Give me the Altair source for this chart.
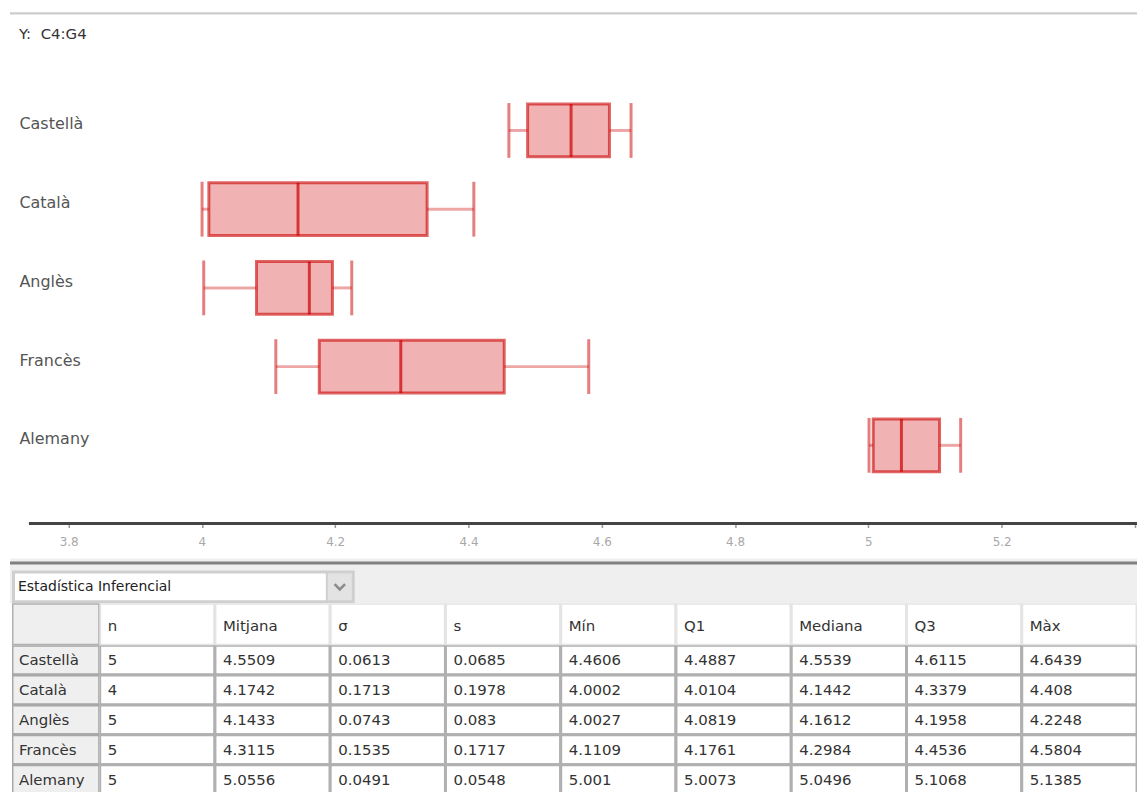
import altair as alt
import pandas as pd

# ---------------- data ----------------
languages = ["Castellà", "Català", "Anglès", "Francès", "Alemany"]
n_vals = [5, 4, 5, 5, 5]
mean_vals = [4.5509, 4.1742, 4.1433, 4.3115, 5.0556]
sigma_vals = [0.0613, 0.1713, 0.0743, 0.1535, 0.0491]
s_vals = [0.0685, 0.1978, 0.083, 0.1717, 0.0548]
min_vals = [4.4606, 4.0002, 4.0027, 4.1109, 5.001]
q1_vals = [4.4887, 4.0104, 4.0819, 4.1761, 5.0073]
median_vals = [4.5539, 4.1442, 4.1612, 4.2984, 5.0496]
q3_vals = [4.6115, 4.3379, 4.1958, 4.4536, 5.1068]
max_vals = [4.6439, 4.408, 4.2248, 4.5804, 5.1385]
x_ticks = [3.8, 4, 4.2, 4.4, 4.6, 4.8, 5, 5.2, 5.4]
column_headers = ["n", "Mitjana", "σ", "s", "Mín", "Q1", "Mediana", "Q3", "Màx"]
source_label = "Y:\u00a0 C4:G4"
selector_label = "Estadística Inferencial"

# ---------------- style ----------------
FONT = "DejaVu Sans"
RED = "#cc0000"
W = 1129
H = 516

box_df = pd.DataFrame({"lang": languages, "min": min_vals, "q1": q1_vals,
                       "med": median_vals, "q3": q3_vals, "max": max_vals})
one = pd.DataFrame({"k": [0]})

x_scale = alt.Scale(domain=[3.715, 3.715 + W / 668.8], nice=False, zero=False)
y_scale = alt.Scale(domain=languages, range=[82, 477], paddingInner=0, paddingOuter=0)
x_axis = alt.Axis(title=None, values=x_ticks, format="~g", domain=False, grid=False,
                  tickSize=4, tickColor="#999999", tickWidth=1.5, labelBound=True,
                  labelFont=FONT, labelFontSize=12, labelColor="#a8a8a8", labelPadding=9)
y_axis = alt.Axis(title=None, domain=False, ticks=False, grid=False, labelAlign="left",
                  labelBaseline="middle", labelPadding=-7, labelOffset=-6,
                  labelFont=FONT, labelFontSize=16, labelColor="#555555")


def X(field):
    return alt.X(field, type="quantitative", scale=x_scale, axis=x_axis)


Y = alt.Y("lang:N", scale=y_scale, axis=y_axis)

base = alt.Chart(box_df)
whisk_lo = base.mark_rule(color=RED, opacity=0.35, strokeWidth=3).encode(x=X("min"), x2="q1:Q", y=Y)
whisk_hi = base.mark_rule(color=RED, opacity=0.35, strokeWidth=3).encode(x=X("q3"), x2="max:Q", y=Y)
box = base.mark_bar(size=53, fill=RED, fillOpacity=0.3, stroke=RED, strokeOpacity=0.6,
                    strokeWidth=3).encode(x=X("q1"), x2="q3:Q", y=Y)
cap_lo = base.mark_tick(color=RED, opacity=0.5, size=55, thickness=3).encode(x=X("min"), y=Y)
cap_hi = base.mark_tick(color=RED, opacity=0.5, size=55, thickness=3).encode(x=X("max"), y=Y)
median = base.mark_tick(color=RED, opacity=0.7, size=53, thickness=3).encode(x=X("med"), y=Y)

axis_line = alt.Chart(one).mark_rule(color="#444444", strokeWidth=3).encode(
    x=alt.value(17), x2=alt.value(W), y=alt.value(H))
top_line = alt.Chart(one).mark_rule(color="#cccccc", strokeWidth=2.5).encode(
    x=alt.value(-2), x2=alt.value(W), y=alt.value(4))
title_txt = alt.Chart(pd.DataFrame({"t": [source_label]})).mark_text(
    align="left", baseline="middle", font=FONT, fontSize=15, color="#333333").encode(
    x=alt.value(7), y=alt.value(25), text="t:N")

top = alt.layer(whisk_lo, whisk_hi, box, cap_lo, cap_hi, median, axis_line, top_line,
                title_txt).properties(width=W, height=H)

# ---------------- selector panel ----------------
panel_bg = alt.Chart(one).mark_rect(color="#efefef").encode(
    x=alt.value(-2), x2=alt.value(W), y=alt.value(0), y2=alt.value(45))
sep = alt.Chart(one).mark_rule(color="#808080", strokeWidth=3).encode(
    x=alt.value(-2), x2=alt.value(W), y=alt.value(4.5))
dd_outer = alt.Chart(one).mark_rect(color="#cfcfcf").encode(
    x=alt.value(0), x2=alt.value(344), y=alt.value(12), y2=alt.value(45))
dd_inner = alt.Chart(one).mark_rect(color="#ffffff").encode(
    x=alt.value(3), x2=alt.value(315), y=alt.value(15), y2=alt.value(42))
dd_arrow = alt.Chart(one).mark_rect(color="#e3e3e3").encode(
    x=alt.value(317), x2=alt.value(341), y=alt.value(15), y2=alt.value(42))
chevron = alt.Chart(one).mark_point(shape="M-1,-0.5L0,0.5L1,-0.5", filled=False,
                                    color="#8a8a8a", strokeWidth=2.5, size=110, opacity=1).encode(
    x=alt.value(329), y=alt.value(28.5))
dd_text = alt.Chart(pd.DataFrame({"t": [selector_label]})).mark_text(
    align="left", baseline="middle", font=FONT, fontSize=14, color="#222222").encode(
    x=alt.value(6), y=alt.value(28.5), text="t:N")
panel = alt.layer(panel_bg, sep, dd_outer, dd_inner, dd_arrow, chevron, dd_text).properties(
    width=W, height=45)

# ---------------- table ----------------
rows = []
for i, lang in enumerate(languages):
    vals = [n_vals[i], mean_vals[i], sigma_vals[i], s_vals[i], min_vals[i],
            q1_vals[i], median_vals[i], q3_vals[i], max_vals[i]]
    for col, v in zip(column_headers, vals):
        rows.append({"lang": lang, "col": col, "text": str(v)})
cells_df = pd.DataFrame(rows)

FW = 88
TW = W - FW
HH = 42
BH = 150
col_scale = alt.Scale(domain=column_headers, paddingInner=0, paddingOuter=0)
row_scale = alt.Scale(domain=languages, paddingInner=0, paddingOuter=0)

corner = alt.Chart(one).mark_rect(fill="#efefef", stroke="#b0b0b0", strokeWidth=3, clip=True).encode(
    x=alt.value(0), x2=alt.value(FW), y=alt.value(0), y2=alt.value(HH)).properties(width=FW, height=HH)

hdr_df = pd.DataFrame({"col": column_headers})
hdr_rect = alt.Chart(hdr_df).mark_rect(fill="#ffffff", stroke="#e4e4e4", strokeWidth=3, clip=True).encode(
    x=alt.X("col:N", scale=col_scale, axis=None))
hdr_text = alt.Chart(hdr_df).mark_text(align="left", baseline="middle", dx=8, font=FONT,
                                       fontSize=15, color="#333333", clip=True).encode(
    x=alt.X("col:N", scale=col_scale, axis=None, bandPosition=0), y=alt.value(23), text="col:N")
header = alt.layer(hdr_rect, hdr_text).properties(width=TW, height=HH)

rh_df = pd.DataFrame({"lang": languages})
rh_rect = alt.Chart(rh_df).mark_rect(fill="#efefef", stroke="#a8a8a8", strokeWidth=3, clip=True).encode(
    y=alt.Y("lang:N", scale=row_scale, axis=None))
rh_text = alt.Chart(rh_df).mark_text(align="left", baseline="middle", font=FONT, fontSize=15,
                                     color="#333333", clip=True).encode(
    x=alt.value(7), y=alt.Y("lang:N", scale=row_scale, axis=None), text="lang:N")
rowhdr = alt.layer(rh_rect, rh_text).properties(width=FW, height=BH)

body_rect = alt.Chart(cells_df).mark_rect(fill="#ffffff", stroke="#b0b0b0", strokeWidth=3, clip=True).encode(
    x=alt.X("col:N", scale=col_scale, axis=None), y=alt.Y("lang:N", scale=row_scale, axis=None))
body_text = alt.Chart(cells_df).mark_text(align="left", baseline="middle", dx=8, font=FONT,
                                          fontSize=15, color="#333333", clip=True).encode(
    x=alt.X("col:N", scale=col_scale, axis=None, bandPosition=0),
    y=alt.Y("lang:N", scale=row_scale, axis=None), text="text:N")
body = alt.layer(body_rect, body_text).properties(width=TW, height=BH)

table = alt.vconcat(
    alt.hconcat(corner, header, spacing=0, bounds="flush"),
    alt.hconcat(rowhdr, body, spacing=0, bounds="flush"),
    spacing=0, bounds="full")

lower = alt.vconcat(panel, table, spacing=0, bounds="flush")

chart = alt.vconcat(top, lower, spacing=35, bounds="flush").properties(
    background="#ffffff", padding={"left": 0, "top": 0, "right": 0, "bottom": 0}
).configure_view(strokeWidth=0)

chart.save("out.html", embed_options={"renderer": "svg", "actions": False})
